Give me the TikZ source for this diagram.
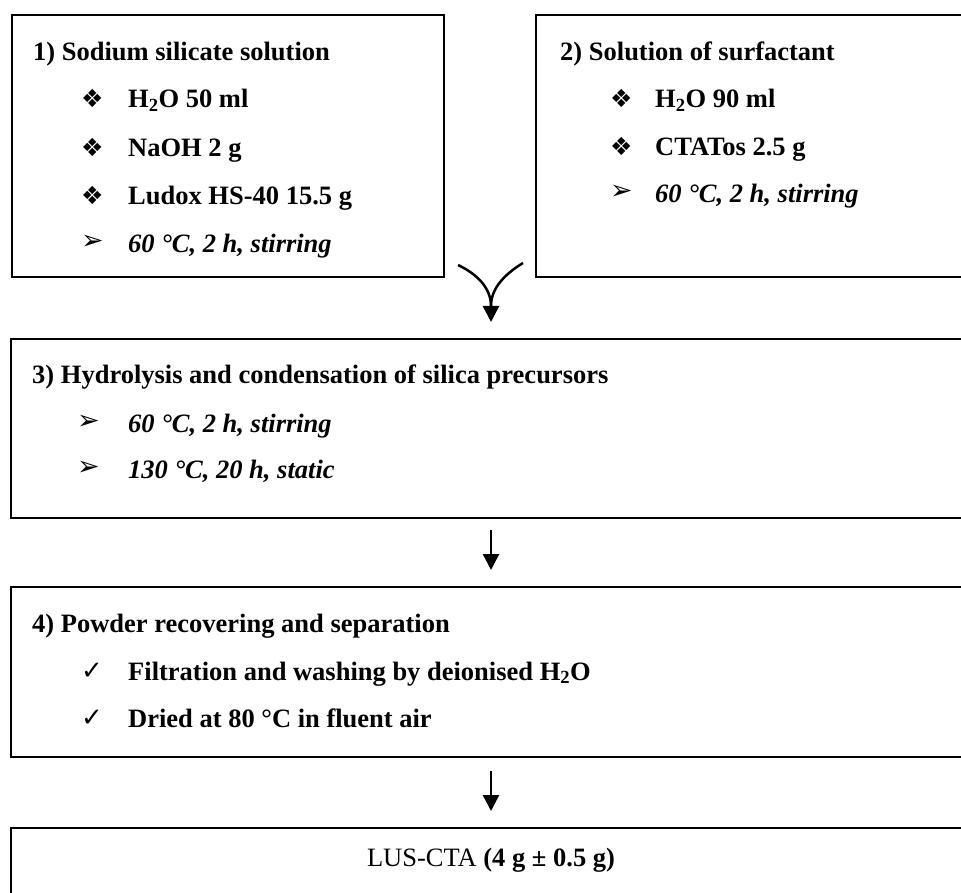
\documentclass[tikz,border=0pt]{standalone}
\usepackage{fontspec}
\setmainfont{Liberation Serif}
\newfontfamily\dingfont{DejaVu Sans}
\usetikzlibrary{arrows.meta, positioning}
\tikzset{
    stepbox/.style={rectangle, draw, line width=2pt, inner sep=0pt},
    heading/.style={anchor=base west, inner sep=0pt, font=\fontsize{26.5}{30}\selectfont\bfseries},
    entry/.style={anchor=base west, inner sep=0pt, font=\fontsize{26.5}{30}\selectfont\bfseries},
    cond/.style={anchor=base west, inner sep=0pt, font=\fontsize{26.5}{30}\selectfont\bfseries\itshape},
    bulletsym/.style={anchor=base west, inner sep=0pt, font=\fontsize{#1}{#1}\selectfont\dingfont},
    bulletsym/.default=25,
    flow/.style={line width=2.5pt, -{Triangle[width=16pt,length=16pt]}}
}
\begin{document}
\begin{tikzpicture}[x=1pt, y=-1pt]
    \useasboundingbox (0,0) rectangle (961,893);
    \clip (0,0) rectangle (961,893);

    % Boxes
    \node [stepbox, minimum width=432pt, minimum height=262pt] (s1box) at (228,146) {};
    \node [stepbox, minimum width=444pt, minimum height=262pt] (s2box) at (758,146) {};
    \node [stepbox, minimum width=960pt, minimum height=179pt] (s3box) at (491,428.5) {};
    \node [stepbox, minimum width=960pt, minimum height=170pt] (s4box) at (491,672) {};
    \node [stepbox, minimum width=960pt, minimum height=92pt] (prodbox) at (491,874) {};

    % 1) Sodium silicate solution
    \node [heading] (s1head) at (33,61) {1) Sodium silicate solution};
    \node [bulletsym] (s1b1) at (81,108) {❖};
    \node [entry] (s1t1) at (128,108) {H\textsubscript{2}O 50 ml};
    \node [bulletsym] (s1b2) at (81,157) {❖};
    \node [entry] (s1t2) at (128,157) {NaOH 2 g};
    \node [bulletsym] (s1b3) at (81,205) {❖};
    \node [entry] (s1t3) at (128,205) {Ludox HS-40 15.5 g};
    \node [bulletsym=27] (s1b4) at (81,250) {➢};
    \node [cond] (s1t4) at (128,253) {60 °C, 2 h, stirring};

    % 2) Solution of surfactant
    \node [heading] (s2head) at (560,61) {2) Solution of surfactant};
    \node [bulletsym] (s2b1) at (610,108) {❖};
    \node [entry] (s2t1) at (655,108) {H\textsubscript{2}O 90 ml};
    \node [bulletsym] (s2b2) at (610,156) {❖};
    \node [entry] (s2t2) at (655,156) {CTATos 2.5 g};
    \node [bulletsym=27] (s2b3) at (610,200) {➢};
    \node [cond] (s2t3) at (655,203) {60 °C, 2 h, stirring};

    % 3) Hydrolysis
    \node [heading] (s3head) at (32,383) {3) Hydrolysis and condensation of silica precursors};
    \node [bulletsym=27] (s3b1) at (77,429) {➢};
    \node [cond] (s3t1) at (128,432) {60 °C, 2 h, stirring};
    \node [bulletsym=27] (s3b2) at (77,475) {➢};
    \node [cond] (s3t2) at (128,478) {130 °C, 20 h, static};

    % 4) Recovering
    \node [heading] (s4head) at (32,632) {4) Powder recovering and separation};
    \node [bulletsym=26] (s4b1) at (81,679) {✓};
    \node [entry] (s4t1) at (128,680) {Filtration and washing by deionised H\textsubscript{2}O};
    \node [bulletsym=26] (s4b2) at (81,726) {✓};
    \node [entry] (s4t2) at (128,727) {Dried at 80 °C in fluent air};

    % Product
    \node [anchor=base, inner sep=0pt, font=\fontsize{26.5}{30}\selectfont] (prodtext) at (491,866) {LUS-CTA \textbf{(4 g ± 0.5 g)}};

    % Flows
    \coordinate (vleft) at (458,265);
    \coordinate (vright) at (523,263);
    \coordinate (vmerge) at (491,306);
    \draw [line width=2.5pt] (vleft) .. controls (477,274) and (491,288) .. (vmerge);
    \draw [line width=2.5pt] (vright) .. controls (505,274) and (491,288) .. (vmerge);
    \draw [flow, shorten >=16pt] (vmerge) -- (s3box.north);
    \draw [flow, shorten <=11pt, shorten >=16pt] (s3box.south) -- (s4box.north);
    \draw [flow, shorten <=13pt, shorten >=16pt] (s4box.south) -- (prodbox.north);
\end{tikzpicture}
\end{document}
